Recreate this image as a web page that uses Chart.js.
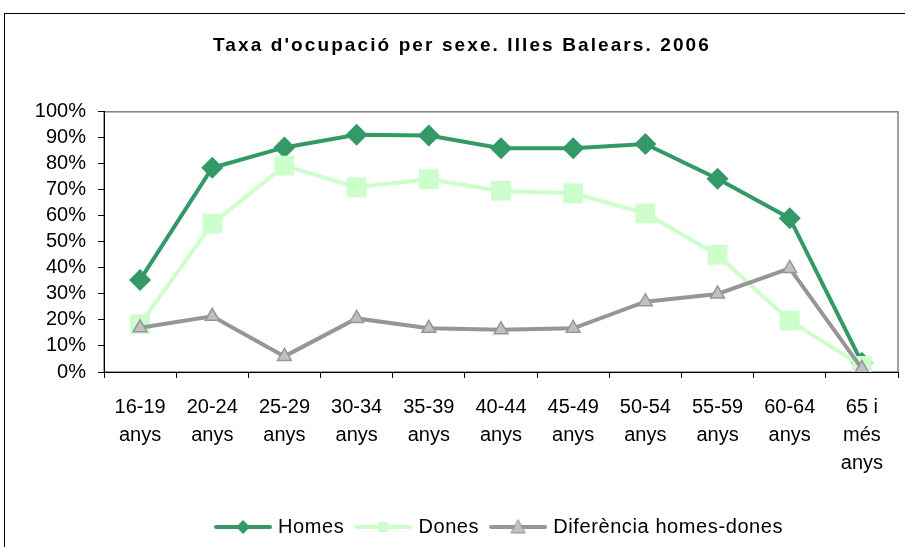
<!DOCTYPE html>
<html>
<head>
<meta charset="utf-8">
<script src="https://cdn.jsdelivr.net/npm/chart.js@4"></script>
<style>
    html, body { margin: 0; padding: 0; background: #fff; }
    #wrap { width: 905px; height: 547px; position: relative; }
</style>
</head>
<body>
<div id="wrap"><canvas id="chart" width="905" height="547"></canvas></div>
<script>
// Taxa d'ocupació per sexe (%)
const categories = [
    ['16-19', 'anys'], ['20-24', 'anys'], ['25-29', 'anys'], ['30-34', 'anys'],
    ['35-39', 'anys'], ['40-44', 'anys'], ['45-49', 'anys'], ['50-54', 'anys'],
    ['55-59', 'anys'], ['60-64', 'anys'], ['65 i', 'més', 'anys']
];
const homes = [35.4, 78.5, 86.3, 91.2, 90.9, 86.0, 86.0, 87.6, 74.3, 59.1, 3.6];
const dones = [18.4, 57.0, 79.3, 71.0, 74.1, 69.6, 68.7, 61.0, 45.0, 19.7, 2.3];
const diferencia = [17.0, 21.4, 6.0, 20.6, 16.8, 16.2, 16.8, 27.0, 30.0, 39.8, 1.3];
const seriesNames = ['Homes', 'Dones', 'Diferència homes-dones'];
const yTicks = [0, 10, 20, 30, 40, 50, 60, 70, 80, 90, 100];

const colors = {
    homes: '#339966',
    dones: '#ccffcc',
    difLine: '#969696',
    difFill: '#c0c0c0'
};

const FONT = 'Liberation Sans, Arial, sans-serif';

// legend swatch: short line with the marker in the middle
function swatch(kind) {
    const c = document.createElement('canvas');
    c.width = 58;
    c.height = 16;
    const g = c.getContext('2d');
    const col = kind === 'homes' ? colors.homes : kind === 'dones' ? colors.dones : colors.difLine;
    const m = 29;
    g.strokeStyle = col;
    g.lineWidth = 4;
    g.lineCap = 'round';
    g.beginPath();
    g.moveTo(2, 8);
    g.lineTo(56, 8);
    g.stroke();
    g.beginPath();
    if (kind === 'homes') {
        g.fillStyle = colors.homes;
        g.moveTo(m, 1); g.lineTo(m + 7, 8); g.lineTo(m, 15); g.lineTo(m - 7, 8);
        g.closePath();
        g.fill();
    } else if (kind === 'dones') {
        g.fillStyle = colors.dones;
        g.fillRect(m - 5, 3, 10, 10);
    } else {
        g.fillStyle = colors.difFill;
        g.strokeStyle = colors.difLine;
        g.lineWidth = 1;
        g.moveTo(m, 1); g.lineTo(m + 7, 14); g.lineTo(m - 7, 14);
        g.closePath();
        g.fill();
        g.stroke();
    }
    return c;
}
const swatches = [swatch('homes'), swatch('dones'), swatch('dif')];

// nudge a layout box sideways when it is drawn (title and legend sit off-centre)
function shiftBox(box, dx, spacing) {
    if (!box || box._shifted) return;
    const orig = box.draw;
    box.draw = function(area) {
        const ctx = this.ctx;
        ctx.save();
        ctx.translate(dx, 0);
        if (spacing) ctx.letterSpacing = spacing;
        orig.call(this, area);
        ctx.restore();
    };
    box._shifted = true;
}

const framePlugin = {
    id: 'frame',
    afterInit(chart) {
        shiftBox(chart.titleBlock, 13, '2.1px');
        shiftBox(chart.legend, 42, '0.6px');
    },
    beforeDraw(chart) {
        const ctx = chart.ctx;
        const a = chart.chartArea;
        ctx.save();
        ctx.fillStyle = '#fff';
        ctx.fillRect(0, 0, chart.width, chart.height);
        // outer chart border
        ctx.strokeStyle = '#000';
        ctx.lineWidth = 1;
        ctx.strokeRect(4.5, 13.5, chart.width + 10, chart.height + 10);
        // plot area border
        ctx.strokeStyle = '#808080';
        ctx.lineWidth = 1.5;
        ctx.strokeRect(a.left, a.top, a.right - a.left, a.bottom - a.top);
        ctx.restore();
    }
};

new Chart(document.getElementById('chart'), {
    type: 'line',
    data: {
        labels: categories,
        datasets: [
            {
                label: seriesNames[0],
                data: homes,
                borderColor: colors.homes,
                backgroundColor: colors.homes,
                borderWidth: 4,
                pointStyle: 'rectRot',
                pointRadius: 11,
                pointBorderWidth: 0,
                pointBackgroundColor: colors.homes,
                order: 3
            },
            {
                label: seriesNames[1],
                data: dones,
                borderColor: colors.dones,
                backgroundColor: colors.dones,
                borderWidth: 4,
                pointStyle: 'rect',
                pointRadius: 14,
                pointBorderWidth: 0,
                pointBackgroundColor: colors.dones,
                order: 2
            },
            {
                label: seriesNames[2],
                data: diferencia,
                borderColor: colors.difLine,
                backgroundColor: colors.difFill,
                borderWidth: 4,
                pointStyle: 'triangle',
                pointRadius: 8,
                pointBorderWidth: 1.5,
                pointBorderColor: colors.difLine,
                pointBackgroundColor: colors.difFill,
                order: 1
            }
        ]
    },
    options: {
        responsive: false,
        animation: false,
        layout: { autoPadding: false, padding: { left: 0, right: 7, top: 0, bottom: 0 } },
        plugins: {
            title: {
                display: true,
                text: 'Taxa d\'ocupació per sexe. Illes Balears. 2006',
                color: '#000',
                font: { family: FONT, size: 19, weight: 'bold' },
                padding: { top: 34, bottom: 55 }
            },
            legend: {
                position: 'bottom',
                labels: {
                    color: '#000',
                    font: { family: FONT, size: 20 },
                    usePointStyle: true,
                    pointStyleWidth: 50,
                    padding: 14,
                    generateLabels: () => seriesNames.map((name, i) => ({
                        text: name,
                        pointStyle: swatches[i],
                        fillStyle: 'transparent',
                        strokeStyle: 'transparent',
                        lineWidth: 0,
                        datasetIndex: i
                    }))
                }
            },
            tooltip: { enabled: false }
        },
        scales: {
            x: {
                offset: true,
                grid: {
                    offset: true,
                    drawOnChartArea: false,
                    drawTicks: true,
                    tickLength: 6,
                    color: '#000'
                },
                border: { color: '#000', width: 1 },
                ticks: {
                    color: '#000',
                    font: { family: FONT, size: 20, lineHeight: 1.4 },
                    padding: 15,
                    maxRotation: 0,
                    autoSkip: false
                },
                afterFit(scale) {
                    scale.height = 131;
                    scale.paddingLeft = 0;
                    scale.paddingRight = 0;
                }
            },
            y: {
                min: 0,
                max: 100,
                afterBuildTicks(scale) { scale.ticks = yTicks.map(v => ({ value: v })); },
                grid: {
                    drawOnChartArea: false,
                    drawTicks: true,
                    tickLength: 6,
                    color: '#000'
                },
                border: { color: '#000', width: 1 },
                ticks: {
                    color: '#000',
                    font: { family: FONT, size: 20 },
                    padding: 12,
                    autoSkip: false,
                    callback: v => v + '%'
                },
                afterFit(scale) { scale.width = 104; }
            }
        }
    },
    plugins: [framePlugin]
});
</script>
</body>
</html>
